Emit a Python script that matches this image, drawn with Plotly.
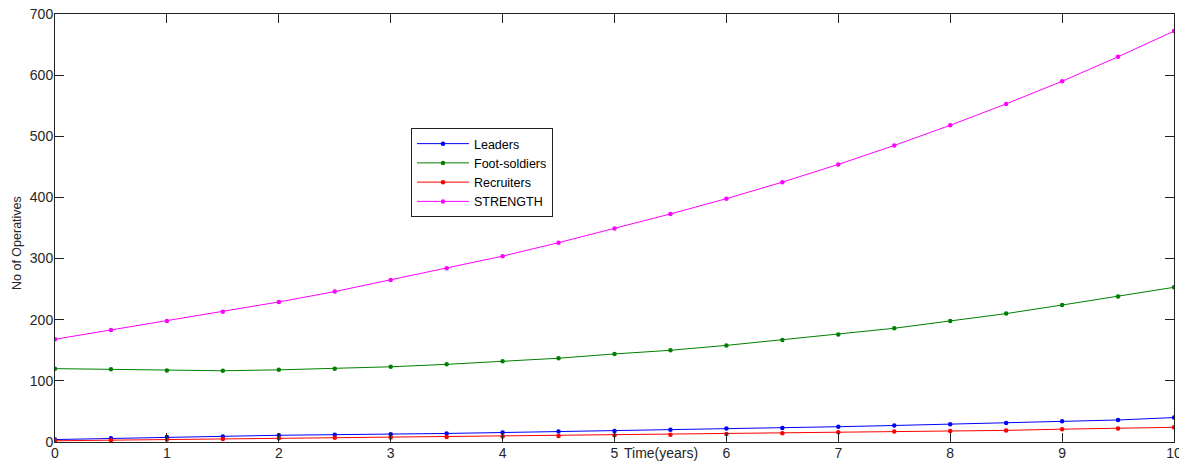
import plotly.graph_objects as go

t = [i * 0.5 for i in range(21)]
leaders = [4, 6, 8, 9, 11, 12, 12.5, 14, 15.5, 17, 18, 20, 22, 23, 25, 27, 29, 31, 34, 36, 40]
foot_soldiers = [120, 119, 117, 116.5, 118, 120, 123, 127, 132, 137, 144, 150, 158, 167, 176, 186, 198, 210, 224, 238, 253]
recruiters = [2, 3, 4, 5, 6, 7, 7.5, 8, 9, 10, 11, 12, 13, 14.5, 16, 17, 18, 19, 21, 22, 24]
strength = [168, 183, 198, 213, 229, 246, 265, 284, 304, 326, 349, 373, 398, 425, 454, 485, 518, 553, 590, 630, 672]

series = [
    ("Leaders", leaders, "#0000ff"),
    ("Foot-soldiers", foot_soldiers, "#008000"),
    ("Recruiters", recruiters, "#ff0000"),
    ("STRENGTH", strength, "#ff00ff"),
]

xticks = list(range(0, 11))
yticks = list(range(0, 701, 100))

fig = go.Figure()
for name, vals, col in series:
    fig.add_trace(go.Scatter(
        x=t, y=vals, name=name, mode="lines+markers",
        line=dict(color=col, width=1),
        marker=dict(color=col, size=4.5, symbol="circle"),
    ))

axis_common = dict(
    showgrid=False, zeroline=False, showline=True, linecolor="#222222",
    linewidth=1, mirror="ticks", ticks="inside", ticklen=9, tickcolor="#222222",
    automargin=False, ticklabeloverflow="allow",
    tickfont=dict(family="Arial, Liberation Sans", size=14, color="#262626"),
)

L, R, T, B = 55, 5, 14, 20
W, H = 1179, 462
pw, ph = W - L - R, H - T - B

fig.update_layout(
    width=W, height=H,
    margin=dict(l=L, r=R, t=T, b=B),
    paper_bgcolor="white", plot_bgcolor="white",
    font=dict(family="Arial, Liberation Sans", size=12, color="#262626"),
    xaxis=dict(range=[0, 10], tickvals=xticks, ticktext=[str(v) for v in xticks],
               ticklabelstandoff=-2, **axis_common),
    yaxis=dict(range=[0, 700], tickvals=yticks, ticktext=[str(v) for v in yticks],
               ticklabelstandoff=-2, **axis_common),
    legend=dict(
        x=(411 - L) / pw, y=(H - B - 128) / ph, xanchor="left", yanchor="top",
        bgcolor="white", bordercolor="#222222", borderwidth=1,
        font=dict(family="Arial, Liberation Sans", size=12.5, color="#000000"),
        tracegroupgap=0, itemwidth=52,
    ),
    showlegend=True,
)

fig.add_annotation(
    text="Time(years)", xref="paper", yref="paper",
    x=(661 - L) / pw, y=-(453 - (H - B)) / ph, xanchor="center", yanchor="middle",
    showarrow=False, font=dict(family="Arial, Liberation Sans", size=14, color="#262626"),
)
fig.add_annotation(
    text="No of Operatives", xref="paper", yref="paper",
    x=-(L - 17) / pw, y=(H - B - 243) / ph, xanchor="center", yanchor="middle",
    textangle=-90, showarrow=False,
    font=dict(family="Arial, Liberation Sans", size=12.5, color="#262626"),
)

fig.write_html(
    "out.html",
    config={"displayModeBar": False},
    post_script="document.body.style.margin='0';document.body.style.overflow='hidden';",
)
